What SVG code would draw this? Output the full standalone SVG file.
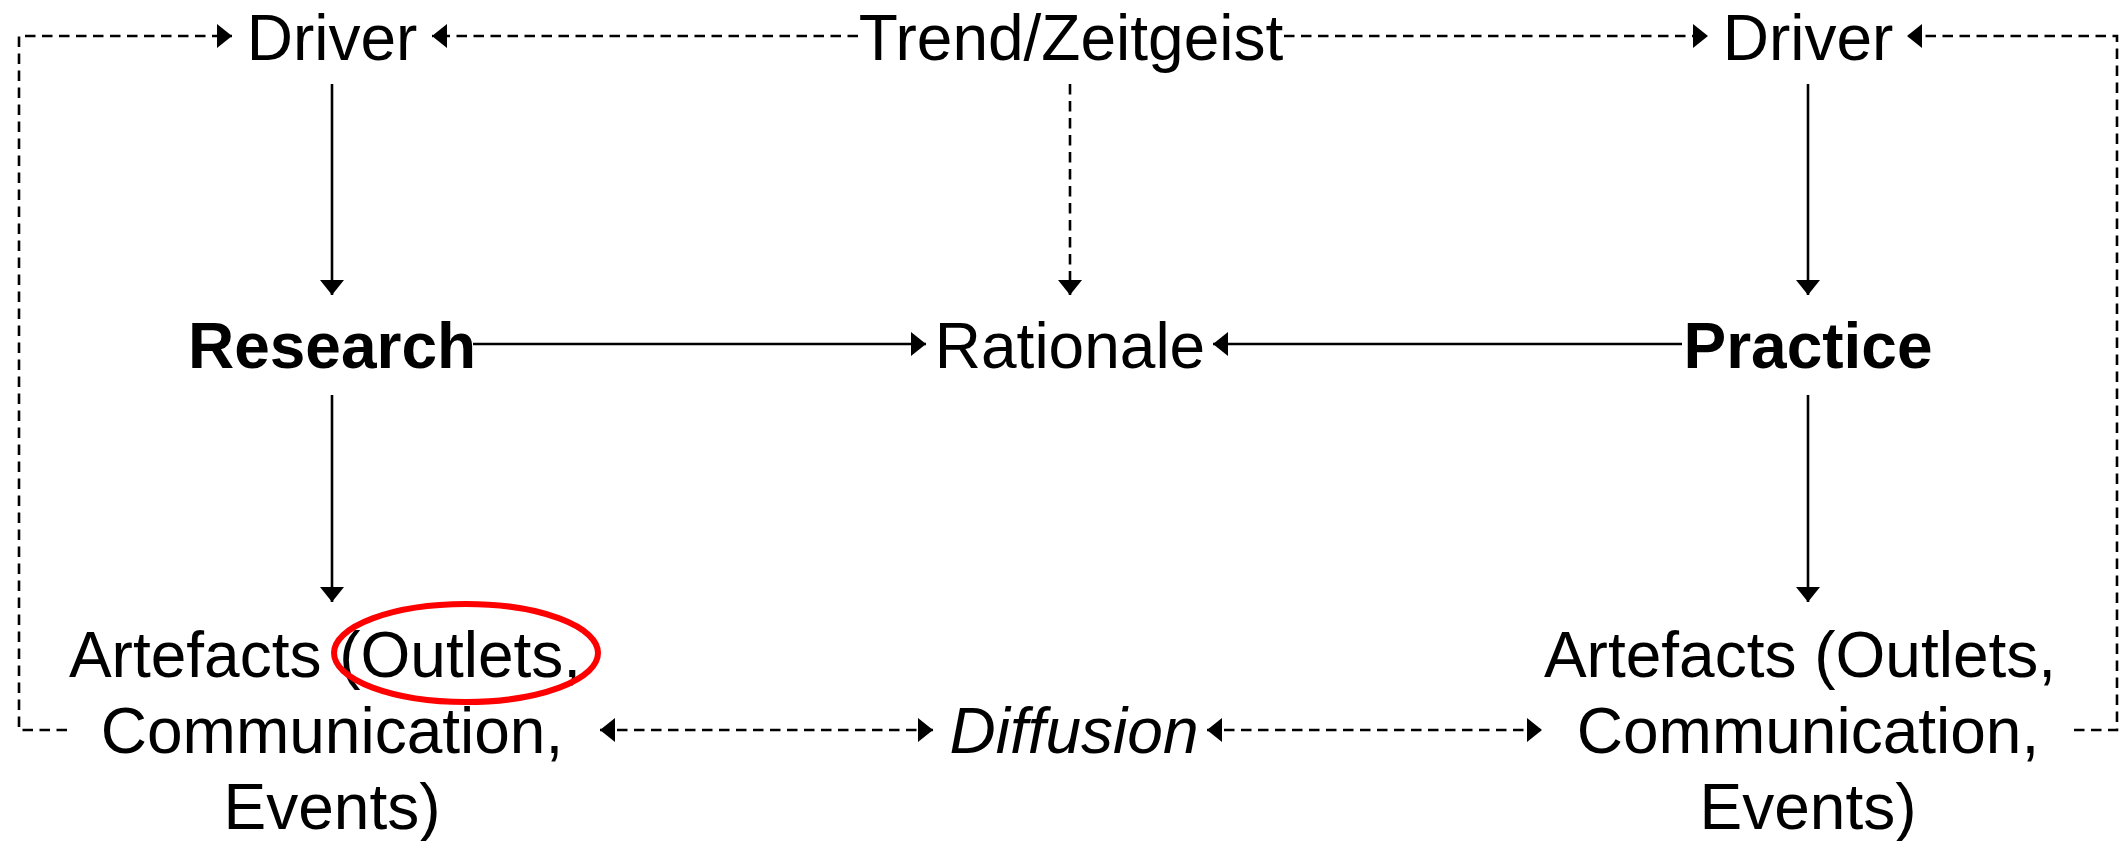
<svg xmlns="http://www.w3.org/2000/svg" width="2123" height="841" viewBox="0 0 2123 841">
<style>
text{font-family:"Liberation Sans",Arial,sans-serif;font-size:64px;fill:#000;text-anchor:middle}
.b{font-weight:bold}
.i{font-style:italic}
.ln{fill:none;stroke:#000;stroke-width:2.6}
.d{stroke-dasharray:10.5,6.5}
</style>
<defs>
<marker id="ah" viewBox="0 0 15 24" refX="15" refY="12" markerWidth="15" markerHeight="24" markerUnits="userSpaceOnUse" orient="auto-start-reverse">
<path d="M0,0 L15,12 L0,24 z" fill="#000"/>
</marker>
</defs>
<rect width="2123" height="841" fill="#fff"/>
<g id="connectors">
<path class="ln d" d="M67,730 H19 V36 H232" marker-end="url(#ah)"/>
<path class="ln d" d="M858,36 H432" marker-end="url(#ah)"/>
<path class="ln d" d="M1284,36 H1708" marker-end="url(#ah)"/>
<path class="ln d" d="M2074,730 H2117 V36 H1907" marker-end="url(#ah)"/>
<path class="ln" d="M332,84 V295" marker-end="url(#ah)"/>
<path class="ln d" d="M1070,84 V295" marker-end="url(#ah)"/>
<path class="ln" d="M1808,84 V295" marker-end="url(#ah)"/>
<path class="ln" d="M473,344 H926" marker-end="url(#ah)"/>
<path class="ln" d="M1682,344 H1213" marker-end="url(#ah)"/>
<path class="ln" d="M332,395 V602" marker-end="url(#ah)"/>
<path class="ln" d="M1808,395 V602" marker-end="url(#ah)"/>
<path class="ln d" d="M600,730 H933" marker-start="url(#ah)" marker-end="url(#ah)"/>
<path class="ln d" d="M1207,730 H1542" marker-start="url(#ah)" marker-end="url(#ah)"/>
</g>
<g id="driver-left"><text x="332" y="60">Driver</text></g>
<g id="trend"><text x="1071" y="60">Trend/Zeitgeist</text></g>
<g id="driver-right"><text x="1808" y="60">Driver</text></g>
<g id="research"><text class="b" x="332" y="368">Research</text></g>
<g id="rationale"><text x="1070" y="368">Rationale</text></g>
<g id="practice"><text class="b" x="1808" y="368">Practice</text></g>
<g id="artefacts-left">
<text x="325" y="677">Artefacts (Outlets,</text>
<text x="332" y="753">Communication,</text>
<text x="332" y="829">Events)</text>
</g>
<g id="diffusion"><text class="i" x="1074" y="753">Diffusion</text></g>
<g id="artefacts-right">
<text x="1800" y="677">Artefacts (Outlets,</text>
<text x="1808" y="753">Communication,</text>
<text x="1808" y="829">Events)</text>
</g>
<g id="highlight"><ellipse cx="466" cy="653" rx="132" ry="49" fill="none" stroke="#ff0000" stroke-width="6"/></g>
</svg>
